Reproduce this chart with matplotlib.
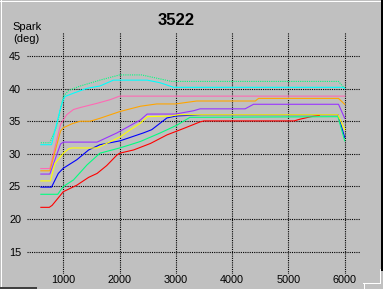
import matplotlib
matplotlib.use("Agg")
import matplotlib.pyplot as plt
from matplotlib.lines import Line2D

# ---- data (rpm, spark deg) ----
red_rpm = [600, 750, 800, 1000, 1240, 1450, 1600, 1770, 1950, 2000, 2250, 2550, 2840, 3140, 3430, 3500, 5100, 5200, 5300, 5400, 5550]
red_deg = [21.8, 21.8, 22.1, 24.2, 25.2, 26.4, 27.0, 28.2, 29.8, 30.1, 30.6, 31.6, 32.9, 33.9, 34.9, 35.05, 35.05, 35.3, 35.5, 35.7, 35.9]

green_rpm = [600, 900, 1000, 1180, 1420, 1650, 2000, 2190, 2370, 2720, 3020, 3250, 5880, 6000]
green_deg = [23.8, 23.8, 25.0, 26.0, 28.3, 30.1, 30.9, 31.4, 31.9, 33.2, 34.4, 35.6, 35.7, 32.0]

blue_rpm = [600, 790, 910, 1000, 1240, 1450, 1650, 2010, 2420, 2570, 2840, 3000, 3450, 5880, 6000]
blue_deg = [24.9, 24.9, 27.0, 27.8, 29.1, 30.6, 31.4, 32.0, 33.2, 33.7, 35.5, 35.8, 36.0, 36.0, 32.5]

yellow_rpm = [600, 770, 850, 1000, 1100, 1150, 1600, 1770, 2010, 2190, 2370, 2490, 2900, 3050, 5880, 6000]
yellow_deg = [25.85, 25.85, 28.5, 30.1, 30.8, 30.9, 30.9, 31.6, 32.6, 33.7, 34.7, 35.7, 35.8, 36.0, 36.0, 33.7]

purple_rpm = [600, 760, 950, 1000, 1600, 1950, 2370, 2490, 2990, 3310, 3430, 4230, 4380, 5890, 6000]
purple_deg = [26.9, 26.9, 31.5, 31.8, 31.8, 33.2, 35.2, 36.1, 36.1, 36.6, 36.9, 36.9, 37.6, 37.6, 35.45]

orange_rpm = [600, 760, 950, 1000, 1150, 1300, 1475, 1650, 2010, 2370, 2660, 2990, 3370, 4410, 4470, 5890, 6000]
orange_deg = [27.4, 27.4, 33.5, 34.0, 34.6, 35.0, 35.0, 35.45, 36.5, 37.3, 37.65, 37.65, 38.1, 38.1, 38.5, 38.5, 37.6]

pink_rpm = [600, 760, 950, 1000, 1060, 1180, 1300, 1600, 1830, 2000, 6000]
pink_deg = [27.75, 27.75, 34.5, 35.2, 36.0, 36.8, 37.1, 37.75, 38.3, 38.85, 38.85]

cyan_rpm = [600, 790, 950, 1000, 1030, 1180, 1420, 1650, 1890, 2490, 2720, 2960, 5950, 6000]
cyan_deg = [31.4, 31.4, 37.0, 38.3, 38.8, 39.3, 40.05, 40.4, 41.3, 41.3, 40.9, 40.2, 40.2, 40.05]

gdot_rpm = [600, 760, 880, 1000, 1090, 1300, 1650, 2000, 2390, 2660, 2930, 5890, 6000]
gdot_deg = [31.7, 31.7, 34.2, 38.8, 39.7, 40.4, 41.3, 42.1, 42.1, 41.6, 41.1, 41.1, 40.05]

x_ticks = [1000, 2000, 3000, 4000, 5000, 6000]
y_ticks = [15, 20, 25, 30, 35, 40, 45]
title = "3522"
ylabel_1 = "Spark"
ylabel_2 = "(deg)"

BG = "#C0C0C0"
W, H = 383, 289
fig = plt.figure(figsize=(W / 100, H / 100), dpi=100, facecolor=BG)
ax = fig.add_axes([27 / W, 15 / H, 333 / W, 242 / H], facecolor=BG)

ax.set_xlim(354, 6272)
ax.set_ylim(11.58, 48.68)
ax.set_xticks(x_ticks)
ax.set_yticks(y_ticks)
ax.set_xticklabels([str(v) for v in x_ticks])
ax.set_yticklabels([str(v) for v in y_ticks])
for s in ax.spines.values():
    s.set_visible(False)
ax.tick_params(length=0, labelsize=7.8, pad=4.3)
ax.tick_params(axis="x", pad=0.8)
for lab in ax.get_xticklabels() + ax.get_yticklabels():
    lab.set_family("Liberation Sans")
ax.grid(True, color="black", linestyle=(0, (1, 1)), linewidth=0.8)
ax.set_axisbelow(True)

kw = dict(lw=0.8, solid_joinstyle="miter")
ax.plot(gdot_rpm, gdot_deg, color="#00FF80", linestyle=(0, (1, 1)), **kw)
ax.plot(cyan_rpm, cyan_deg, color="#00FFFF", **kw)
ax.plot(pink_rpm, pink_deg, color="#FF69B4", **kw)
ax.plot(orange_rpm, orange_deg, color="#FFA500", **kw)
ax.plot(purple_rpm, purple_deg, color="#9933FF", **kw)
ax.plot(blue_rpm, blue_deg, color="#0000FF", **kw)
ax.plot(red_rpm, red_deg, color="#FF0000", **kw)
ax.plot(green_rpm, green_deg, color="#00FF80", **kw)
ax.plot(yellow_rpm, yellow_deg, color="#FFFF00", **kw)

fig.text(176 / W, 1 - 25 / H, title, ha="center", va="baseline",
         fontsize=12, fontweight="bold", family="Liberation Sans")
fig.text(12 / W, 1 - 30 / H, ylabel_1, ha="left", va="baseline",
         fontsize=8, family="Liberation Sans")
fig.text(13 / W, 1 - 41.7 / H, ylabel_2, ha="left", va="baseline",
         fontsize=8, family="Liberation Sans")

# window-like border
def fl(xs, ys, c, w=1):
    fig.add_artist(Line2D([x / W for x in xs], [1 - y / H for y in ys],
                          color=c, lw=w * 0.72, transform=fig.transFigure))

fl([0.5, 0.5], [0, H], "white")
fl([0, 381], [0.5, 0.5], "white")
fl([381.5, 381.5], [0, 270], "black", 2)
fl([0, 36], [287.5, 287.5], "#404040", 2)
fl([379.5, 379.5], [269, 282.5], "white")
fl([363, 379.5], [282.5, 282.5], "white")
fl([363.5, 363.5], [282.5, 289], "white")

fig.savefig("out.png", dpi=100, facecolor=BG)
